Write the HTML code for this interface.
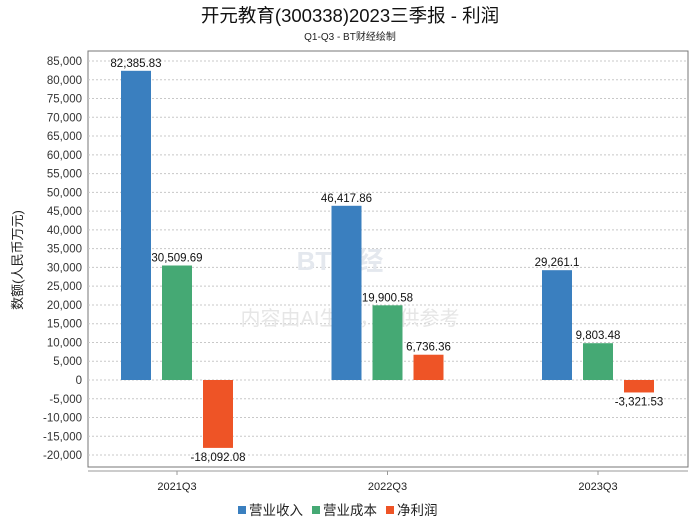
<!DOCTYPE html>
<html><head><meta charset="utf-8"><style>
body{margin:0;background:#fff;font-family:"Liberation Sans","Noto Sans CJK SC",sans-serif}
</style></head><body>
<svg width="700" height="524" xmlns="http://www.w3.org/2000/svg" style="font-family:'Liberation Sans','Noto Sans CJK SC',sans-serif">
<text x="350" y="22" text-anchor="middle" font-size="18.5" fill="#111">开元教育(300338)2023三季报 - 利润</text>
<text x="350" y="40" text-anchor="middle" font-size="10" fill="#222">Q1-Q3 - BT财经绘制</text>
<rect x="88" y="51" width="600" height="416" fill="#fff" stroke="#777"/>
<g id="grid"></g>
<text x="340" y="270" text-anchor="middle" font-size="26" fill="#e4e8ee" font-weight="bold">BT财经</text>
<text x="350" y="325" text-anchor="middle" font-size="20" fill="#e6e6e6">内容由AI生成，仅供参考</text>
<g id="bars"></g>
<line x1="88" y1="471" x2="688" y2="471" stroke="#999"/>
<g id="xlabels"></g>
<text transform="translate(22,260) rotate(-90)" text-anchor="middle" font-size="13" fill="#222">数额(人民币万元)</text>
<g id="legend"></g>
</svg>
<script>
const categories=["2021Q3","2022Q3","2023Q3"];
const seriesNames=["营业收入","营业成本","净利润"];
const revenue=[82385.83,46417.86,29261.1];
const cost=[30509.69,19900.58,9803.48];
const profit=[-18092.08,6736.36,-3321.53];
const valueLabels=[["82,385.83","46,417.86","29,261.1"],["30,509.69","19,900.58","9,803.48"],["-18,092.08","6,736.36","-3,321.53"]];
const yTicks=[85000,80000,75000,70000,65000,60000,55000,50000,45000,40000,35000,30000,25000,20000,15000,10000,5000,0,-5000,-10000,-15000,-20000];
const colors=["#3a7fbf","#45a974","#ee5426"];
const NS="http://www.w3.org/2000/svg";
function y(v){return 380-v*18.765/5000;}
function cx(i){return 177+i*210.5;}
function mk(tag,attrs,parent,text){const e=document.createElementNS(NS,tag);for(const k in attrs)e.setAttribute(k,attrs[k]);if(text!==undefined)e.textContent=text;document.getElementById(parent).appendChild(e);return e;}
yTicks.forEach(t=>{
 const l=mk("line",{x1:88,x2:688,y1:y(t),y2:y(t),stroke:"#c8c8c8","stroke-dasharray":"2,2"},"grid");
 
 
 const tx=mk("text",{x:82,y:y(t)+4,"text-anchor":"end","font-size":11.5,fill:"#333"},"grid",t.toLocaleString("en-US"));
 
 
});
const series=[revenue,cost,profit];
series.forEach((s,si)=>{
 s.forEach((v,i)=>{
  const x=cx(i)+(si-1)*41-15;
  const r=mk("rect",{x:x,y:Math.min(y(v),y(0)),width:30,height:Math.abs(y(v)-y(0)),fill:colors[si]},"bars");
  
  
  const ly=v>=0?y(v)-4:y(v)+13;
  const t=mk("text",{x:x+15,y:ly,"text-anchor":"middle","font-size":11.5,fill:"#111"},"bars",valueLabels[si][i]);
  
  
 });
});
categories.forEach((c,i)=>{
 const tk=mk("line",{x1:cx(i),x2:cx(i),y1:471,y2:475,stroke:"#999"},"xlabels");
 
 
 const t=mk("text",{x:cx(i),y:490,"text-anchor":"middle","font-size":11,fill:"#222"},"xlabels",c);
 
 
});
let lx=238;
seriesNames.forEach((n,i)=>{
 const r=mk("rect",{x:lx,y:506,width:8,height:8,fill:colors[i]},"legend");
 
 
 const t=mk("text",{x:lx+11,y:515,"font-size":13.5,fill:"#222"},"legend",n);
 
 
 lx+=11+n.length*14+7;
});
</script>
</body></html>
